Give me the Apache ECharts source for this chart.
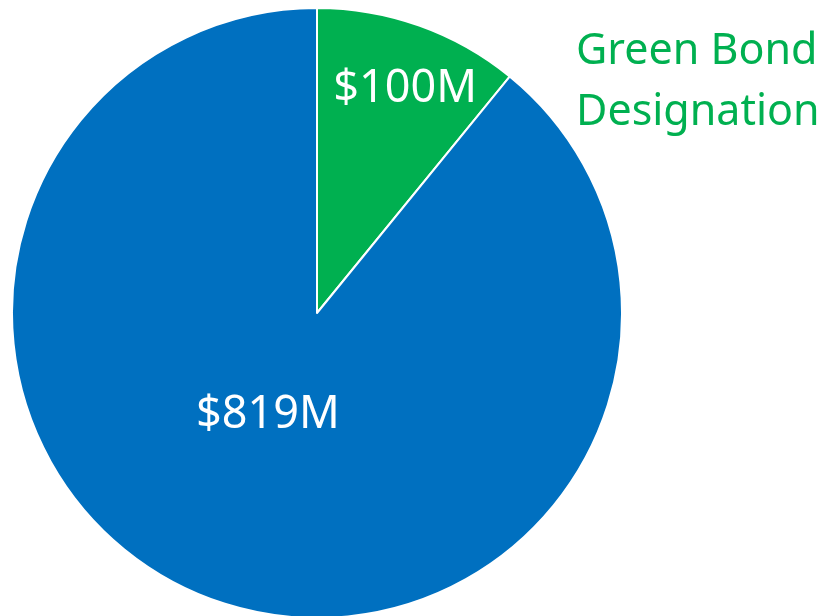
<!DOCTYPE html>
<html>
<head>
<meta charset="utf-8">
<script src="https://cdn.jsdelivr.net/npm/echarts@6/dist/echarts.min.js"></script>
<style>html,body{margin:0;padding:0;background:#fff;}#c{width:829px;height:616px;}</style>
</head>
<body>
<div id="c"></div>
<script>
const categories = ['Green Bond Designation', 'Other'];
const values = [100, 819];
const labels = ['$100M', '$819M'];
const colors = ['#00B050', '#0070C0'];
const labelOffsets = [[36, -77], [3, -44]];

const chart = echarts.init(document.getElementById('c'), null, {renderer: 'canvas'});
chart.setOption({
  animation: false,
  title: {
    text: 'Green Bond\nDesignation',
    left: 571,
    top: 16,
    textStyle: {
      color: '#00B050',
      fontFamily: 'Noto Sans',
      fontWeight: 'normal',
      fontSize: 43,
      lineHeight: 61
    }
  },
  series: [{
    type: 'pie',
    center: [317, 313],
    radius: [0, 305],
    startAngle: 90,
    clockwise: true,
    avoidLabelOverlap: false,
    itemStyle: {borderColor: '#ffffff', borderWidth: 2},
    labelLine: {show: false},
    emphasis: {disabled: true},
    data: categories.map((c, i) => ({
      name: c,
      value: values[i],
      itemStyle: {color: colors[i]},
      label: {
        show: true,
        position: 'inside',
        formatter: labels[i],
        color: '#ffffff',
        fontFamily: 'Noto Sans',
        fontSize: 45,
        offset: labelOffsets[i]
      }
    }))
  }]
});
</script>
</body>
</html>
